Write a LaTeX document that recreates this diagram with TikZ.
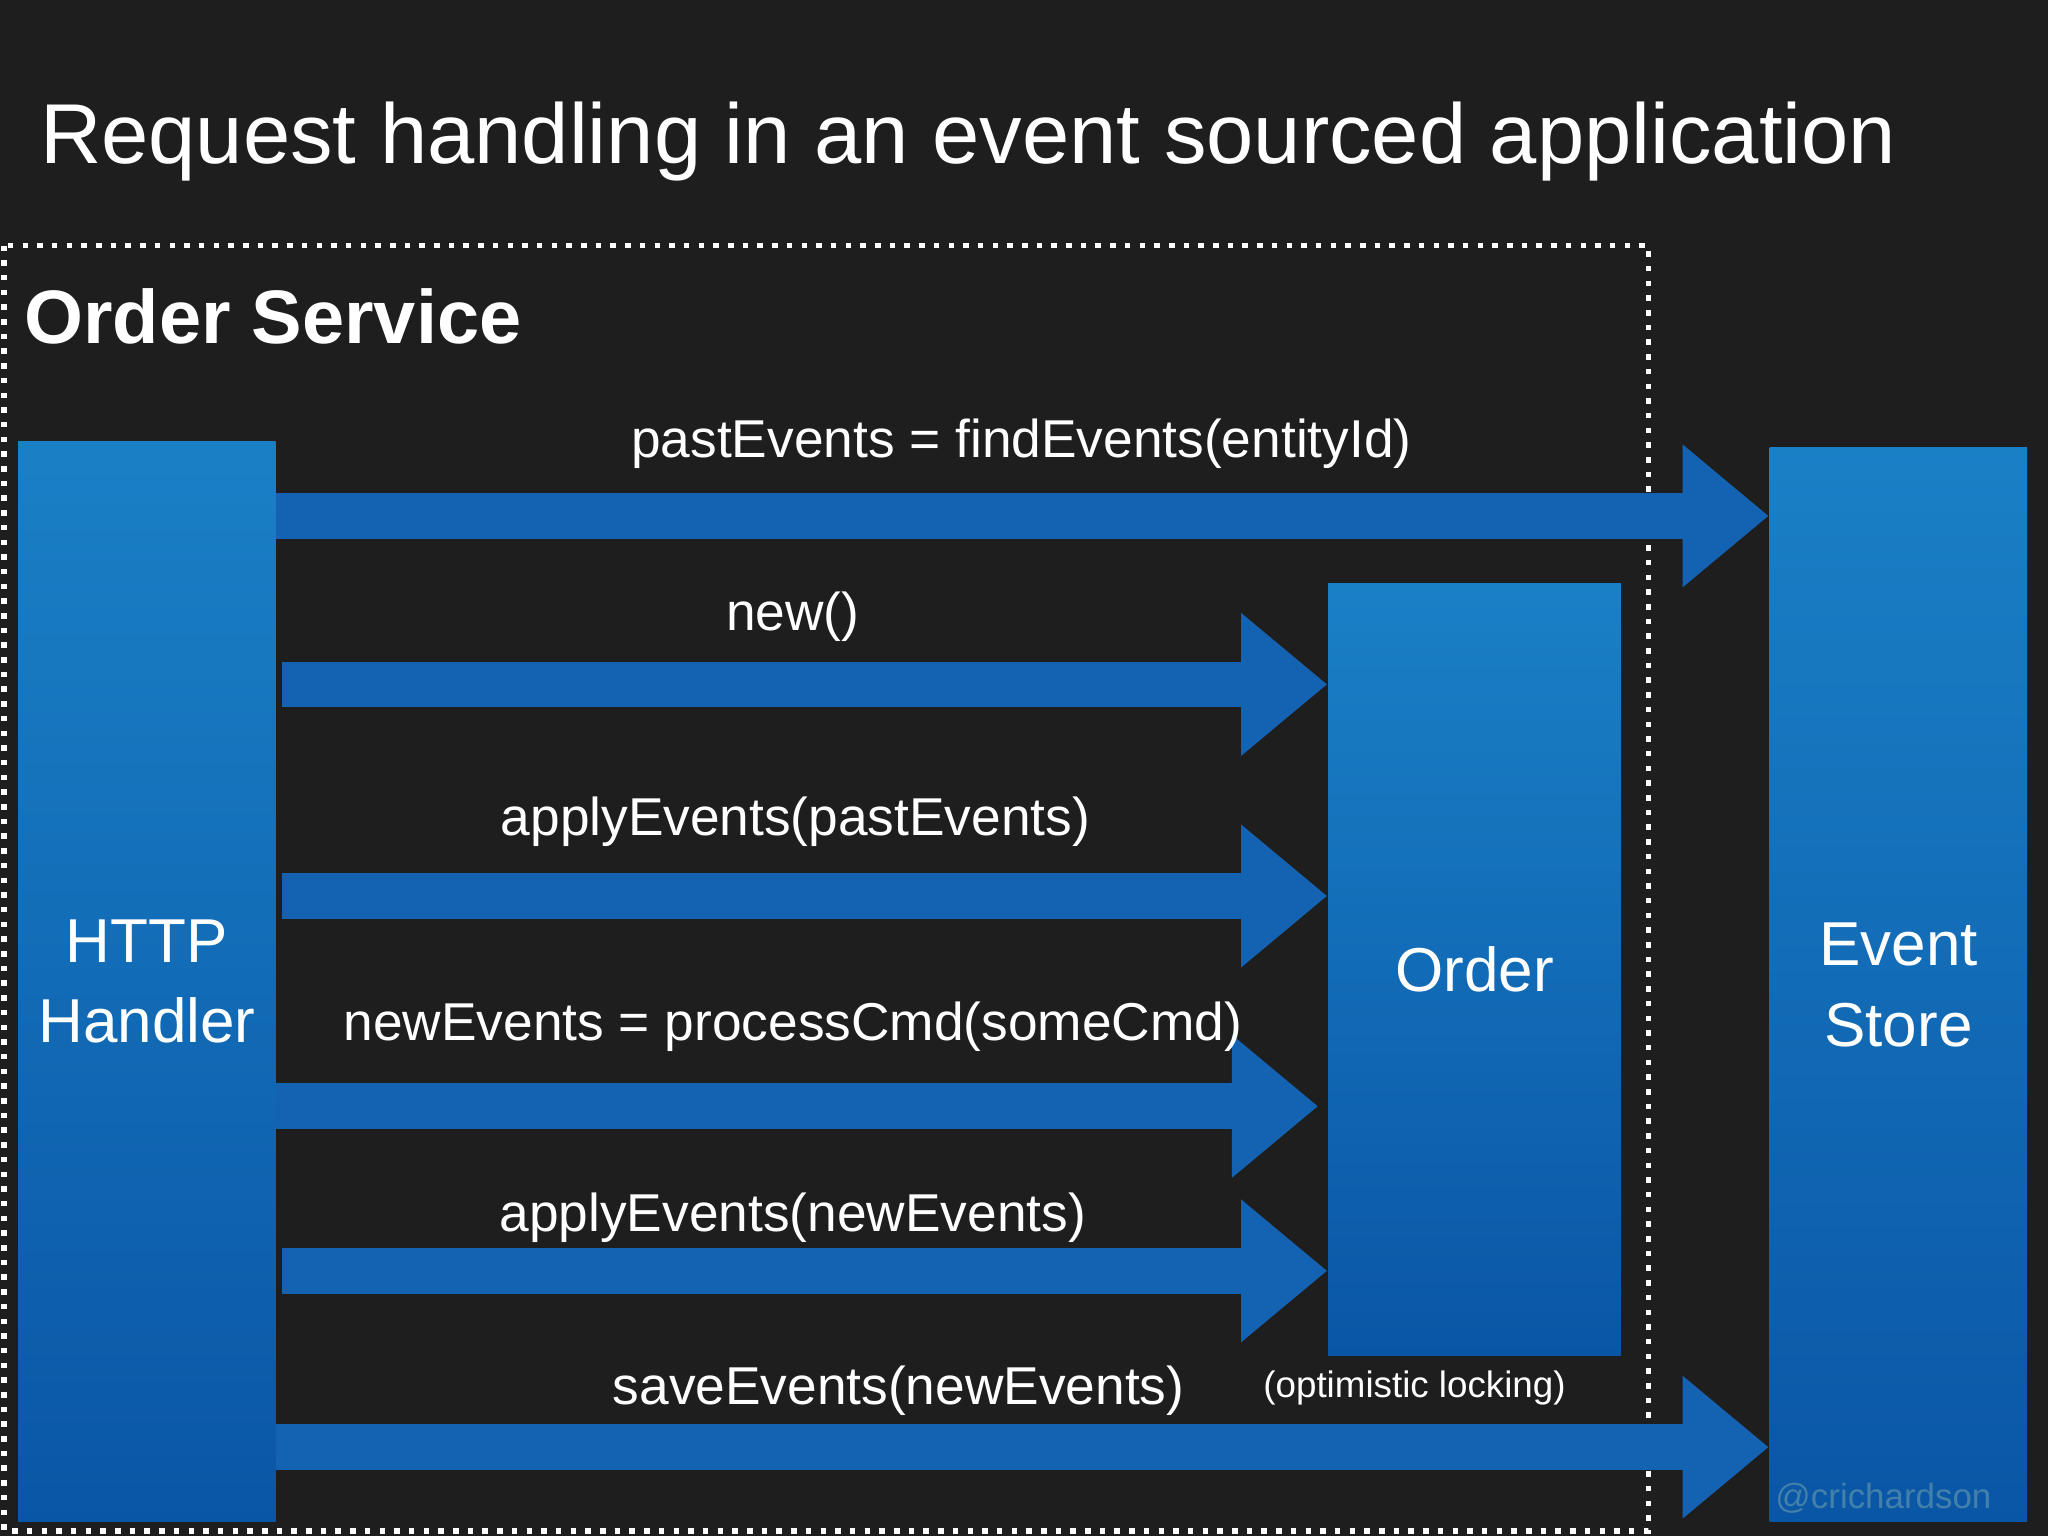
\documentclass[tikz,border=0pt]{standalone}
\usepackage{fontspec}
\setmainfont{Liberation Sans}
\usetikzlibrary{arrows.meta}
\definecolor{bg}{HTML}{1E1E1E}
\definecolor{boxtop}{HTML}{1A80C6}
\definecolor{boxbot}{HTML}{0A56A6}
\definecolor{arr}{HTML}{1462B2}
\tikzset{
 blk/.style={draw=none,top color=boxtop,bottom color=boxbot,inner sep=0pt,text=white,align=center,font=\fontsize{13.5}{17.5}\selectfont},
 bigarrow/.style={draw=arr,line width=0.35cm,-{Triangle[width=1.05cm,length=0.66cm]},shorten >=0pt},
 lbl/.style={text=white,font=\fontsize{11.6}{14}\selectfont,anchor=base,inner sep=0pt},
}
\begin{document}
\begin{tikzpicture}[x=0.01cm,y=-0.01cm]
\fill[bg] (0,0) rectangle (1568,1176);
\useasboundingbox (0,0) rectangle (1568,1176);
\node[text=white,anchor=base west,inner sep=0pt,font=\fontsize{18.5}{22}\selectfont] (title) at (30,125) {Request handling in an event sourced application};
\draw[white,dotted,line width=1.2pt] (3,188) rectangle (1262,1172);
\node[text=white,anchor=base west,inner sep=0pt,font=\bfseries\fontsize{16.5}{19}\selectfont] (svc) at (18,263) {Order Service};
\node[blk,minimum width=1.97cm,minimum height=8.27cm] (hh) at (112.5,751.5) {HTTP\\Handler};
\node[blk,minimum width=2.24cm,minimum height=5.91cm] (order) at (1129,742.5) {Order};
\node[blk,minimum width=1.97cm,minimum height=8.22cm] (es) at (1453.5,754) {Event\\Store};
\coordinate (a1) at (211,395);
\coordinate (a2) at (216,524);
\coordinate (a3) at (216,686);
\coordinate (a4) at (211,847);
\coordinate (a5) at (216,973);
\coordinate (a6) at (211,1108);
\draw[bigarrow] (a1) -- (es.west |- a1);
\draw[bigarrow] (a2) -- (order.west |- a2);
\draw[bigarrow] (a3) -- (order.west |- a3);
\draw[bigarrow] (a4) -- ([xshift=-0.07cm]order.west |- a4);
\draw[bigarrow] (a5) -- (order.west |- a5);
\draw[bigarrow] (a6) -- (es.west |- a6);
\node[lbl] (l1) at (782,350) {pastEvents = findEvents(entityId)};
\node[lbl] (l2) at (607,483) {new()};
\node[lbl] (l3) at (609,640) {applyEvents(pastEvents)};
\node[lbl] (l4) at (607,797) {newEvents = processCmd(someCmd)};
\node[lbl] (l5) at (607,943) {applyEvents(newEvents)};
\node[lbl] (l6) at (688,1075) {saveEvents(newEvents)};
\node[lbl,font=\fontsize{8}{10}\selectfont] (l7) at (1083,1070) {(optimistic locking)};
\node[lbl,text=boxtop!60!gray,font=\fontsize{7.6}{10}\selectfont] (tw) at (1442,1155) {@crichardson};
\end{tikzpicture}
\end{document}
